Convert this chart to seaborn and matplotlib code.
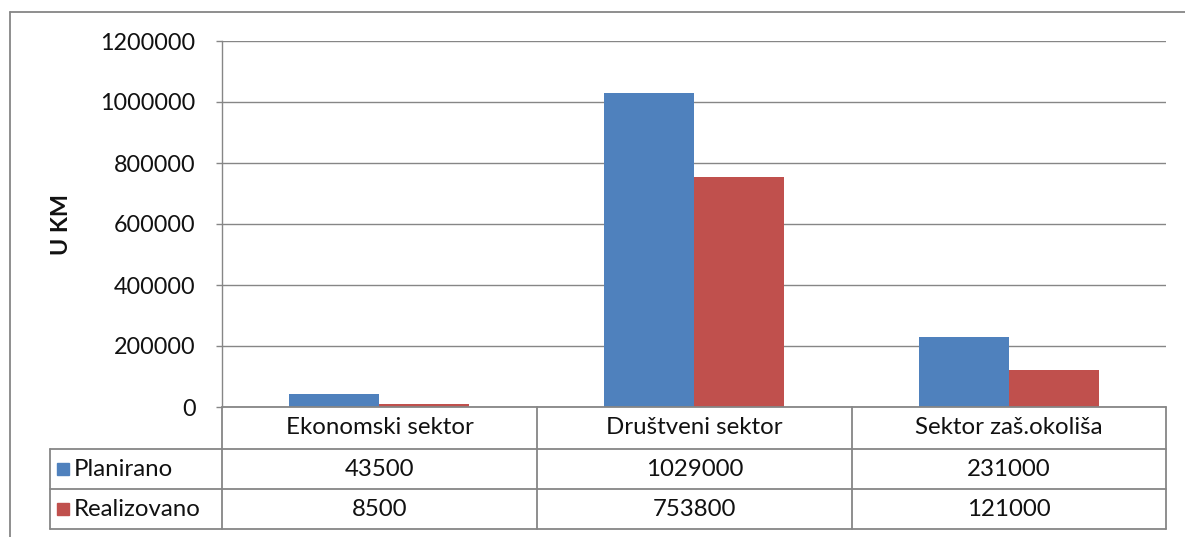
import matplotlib
matplotlib.use("Agg")
import matplotlib.pyplot as plt
import seaborn as sns
import pandas as pd
from matplotlib.lines import Line2D

categories = ["Ekonomski sektor", "Društveni sektor", "Sektor zaš.okoliša"]
series_names = ["Planirano", "Realizovano"]
planirano = [43500, 1029000, 231000]
realizovano = [8500, 753800, 121000]
y_ticks = [0, 200000, 400000, 600000, 800000, 1000000, 1200000]
y_label = "U KM"

BLUE = "#4F81BD"
RED = "#C0504D"
GRID = "#868686"
FONT = "Lato"
FS = 17.3

sns.set_theme(style="white")
plt.rcParams["font.family"] = [FONT, "DejaVu Sans"]

W, H = 1185, 537
fig = plt.figure(figsize=(W / 100, H / 100), dpi=100)


def fx(x):
    return x / W


def fy(y):
    return 1 - y / H


# plot area
L, R, T, B = 222, 1166, 41, 407
ax = fig.add_axes([fx(L), fy(B), fx(R - L), (B - T) / H])

df = pd.DataFrame({
    "cat": categories * 2,
    "series": [series_names[0]] * 3 + [series_names[1]] * 3,
    "val": planirano + realizovano,
})
sns.barplot(data=df, x="cat", y="val", hue="series", palette=[BLUE, RED],
            width=0.572, saturation=1, ax=ax, legend=False, linewidth=0,
            errorbar=None)

ax.set_ylim(0, 1200000)
ax.set_xlim(-0.5, 2.5)
ax.set_yticks(y_ticks)
ax.set_yticklabels([str(v) for v in y_ticks], fontsize=FS - 0.5, color="#111111")
ax.set_xticks([])
ax.set_xlabel("")
ax.set_ylabel("")
ax.yaxis.grid(True, color=GRID, linewidth=1)
ax.set_axisbelow(True)
for s in ["top", "right", "bottom"]:
    ax.spines[s].set_visible(False)
ax.spines["left"].set_color(GRID)
ax.spines["left"].set_linewidth(1)
ax.tick_params(axis="y", which="major", length=4.5, width=1, color=GRID,
               direction="out", pad=14.5, left=True)

fig.text(fx(62), fy(225), y_label, rotation=90, ha="center", va="center",
         fontsize=FS - 0.5, fontweight="bold", color="#111111")

# outer frame
fig.add_artist(Line2D([fx(10), fx(10)], [fy(12), fy(537)], color=GRID, lw=1.3,
                      transform=fig.transFigure))
fig.add_artist(Line2D([fx(10), fx(1185)], [fy(12), fy(12)], color=GRID, lw=1.3,
                      transform=fig.transFigure))

# data table
cols = [222, 537, 852, 1166]
row_y = [407, 449, 489, 529]
tl = 50
lc = dict(color=GRID, lw=1.3, transform=fig.transFigure)
fig.add_artist(Line2D([fx(L), fx(R)], [fy(407), fy(407)], **lc))
for y in row_y[1:]:
    fig.add_artist(Line2D([fx(tl), fx(R)], [fy(y), fy(y)], **lc))
fig.add_artist(Line2D([fx(tl), fx(tl)], [fy(449), fy(529)], **lc))
for x in cols:
    fig.add_artist(Line2D([fx(x), fx(x)], [fy(407), fy(529)], **lc))

tk = dict(ha="center", va="center", fontsize=FS, color="#111111")
for i, c in enumerate(categories):
    cx = (cols[i] + cols[i + 1]) / 2
    fig.text(fx(cx), fy((407 + 449) / 2), c, **tk)
    fig.text(fx(cx), fy((449 + 489) / 2), str(planirano[i]), **tk)
    fig.text(fx(cx), fy((489 + 529) / 2), str(realizovano[i]), **tk)

for j, (name, col) in enumerate(zip(series_names, [BLUE, RED])):
    yc = (row_y[j + 1] + row_y[j + 2]) / 2
    fig.add_artist(plt.Rectangle((fx(57), fy(yc + 6)), fx(12), 12 / H, color=col,
                                 transform=fig.transFigure))
    fig.text(fx(74), fy(yc), name, ha="left", va="center", fontsize=FS,
             color="#111111")

fig.savefig("out.png", dpi=100)
